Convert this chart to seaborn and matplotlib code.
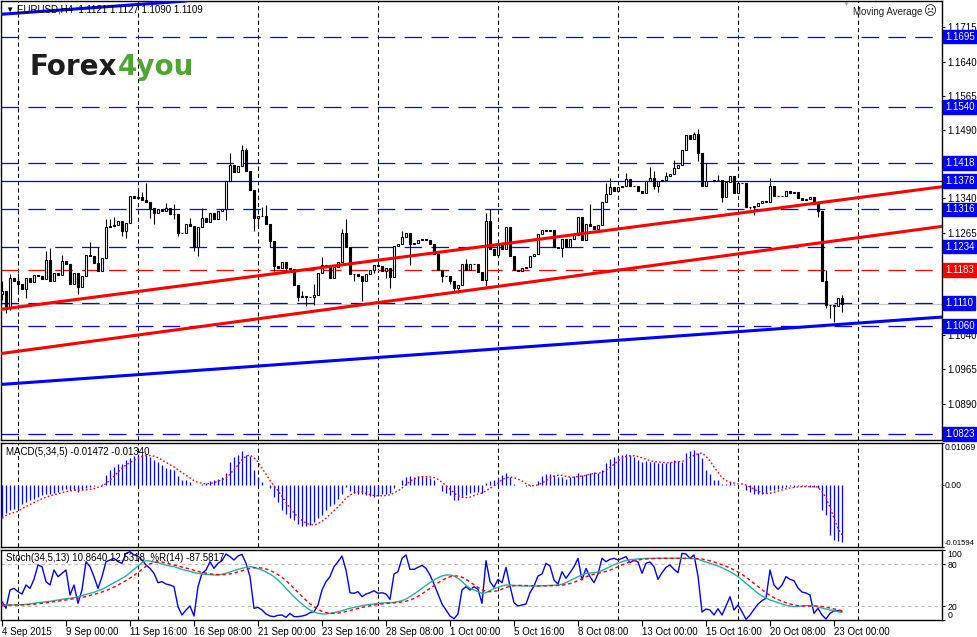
import numpy as np
import pandas as pd
import matplotlib
matplotlib.use("Agg")
import matplotlib.pyplot as plt
import seaborn as sns
from matplotlib.ticker import FixedLocator

# ---------------- data ----------------
header_text = "EURUSD,H4  1.1121 1.1127 1.1090 1.1109"
macd_label = "MACD(5,34,5) -0.01472 -0.01340"
stoch_label = "Stoch(34,5,13) 10.8640 12.5318  %R(14) -87.5817"

first_open = 1.1130
closes = [
    1.1137, 1.1100, 1.1166, 1.1158, 1.1153, 1.1142, 1.1166, 1.1156, 1.1171, 1.1169,
    1.1164, 1.1204, 1.1158, 1.1177, 1.1173, 1.1202, 1.1195, 1.1153, 1.1177, 1.1145,
    1.1169, 1.1215, 1.1213, 1.1199, 1.1180, 1.1210, 1.1278, 1.1279, 1.1281, 1.1290,
    1.1268, 1.1286, 1.1346, 1.1341, 1.1343, 1.1336, 1.1332, 1.1318, 1.1308, 1.1316,
    1.1312, 1.1319, 1.1306, 1.1305, 1.1265, 1.1264, 1.1283, 1.1279, 1.1234, 1.1278,
    1.1297, 1.1288, 1.1307, 1.1294, 1.1313, 1.1316, 1.1378, 1.1414, 1.1398, 1.1411,
    1.1446, 1.1400, 1.1358, 1.1297, 1.1302, 1.1301, 1.1283, 1.1246, 1.1191, 1.1188,
    1.1201, 1.1188, 1.1186, 1.1151, 1.1124, 1.1126, 1.1123, 1.1123, 1.1129, 1.1177,
    1.1194, 1.1190, 1.1166, 1.1190, 1.1200, 1.1265, 1.1234, 1.1175, 1.1175, 1.1169,
    1.1158, 1.1175, 1.1183, 1.1193, 1.1191, 1.1180, 1.1188, 1.1168, 1.1235, 1.1240,
    1.1256, 1.1263, 1.1239, 1.1243, 1.1248, 1.1251, 1.1248, 1.1239, 1.1217, 1.1184,
    1.1169, 1.1169, 1.1158, 1.1144, 1.1149, 1.1197, 1.1184, 1.1195, 1.1196, 1.1178,
    1.1160, 1.1290, 1.1229, 1.1215, 1.1243, 1.1229, 1.1278, 1.1213, 1.1183, 1.1180,
    1.1188, 1.1190, 1.1213, 1.1217, 1.1261, 1.1270, 1.1268, 1.1270, 1.1234, 1.1232,
    1.1250, 1.1234, 1.1250, 1.1259, 1.1300, 1.1248, 1.1284, 1.1279, 1.1272, 1.1281,
    1.1332, 1.1349, 1.1365, 1.1356, 1.1365, 1.1367, 1.1383, 1.1368, 1.1368, 1.1356,
    1.1351, 1.1378, 1.1385, 1.1368, 1.1379, 1.1381, 1.1390, 1.1393, 1.1407, 1.1414,
    1.1446, 1.1480, 1.1471, 1.1482, 1.1440, 1.1368, 1.1379, 1.1378, 1.1380, 1.1380,
    1.1343, 1.1376, 1.1389, 1.1352, 1.1373, 1.1373, 1.1322, 1.1322, 1.1323, 1.1330,
    1.1334, 1.1333, 1.1368, 1.1346, 1.1345, 1.1346, 1.1357, 1.1352, 1.1353, 1.1341,
    1.1336, 1.1338, 1.1343, 1.1327, 1.1313, 1.1158, 1.1107, 1.1107, 1.1104, 1.1122,
    1.1109,
]
high_marks = {0: 1.1158, 2: 1.1175, 4: 1.1177, 11: 1.1224, 12: 1.1232, 15: 1.1215,
              22: 1.1245, 24: 1.1234, 26: 1.1294, 27: 1.1294, 28: 1.1300, 34: 1.1363,
              35: 1.1354, 36: 1.1373, 41: 1.1330, 43: 1.1327, 47: 1.1297, 50: 1.1318,
              57: 1.1440, 60: 1.1458, 61: 1.1451, 65: 1.1321, 66: 1.1326, 75: 1.1137,
              78: 1.1153, 80: 1.1211, 85: 1.1273, 86: 1.1295, 100: 1.1268, 116: 1.1207,
              121: 1.1308, 122: 1.1317, 147: 1.1327, 151: 1.1374, 152: 1.1385, 156: 1.1396,
              162: 1.1409, 163: 1.1400, 166: 1.1398, 168: 1.1425, 173: 1.1485, 174: 1.1493,
              176: 1.1418, 179: 1.1392, 192: 1.1385, 206: 1.1183, 210: 1.1127}
low_marks = {0: 1.1118, 1: 1.1089, 2: 1.1096, 4: 1.1140, 6: 1.1122, 19: 1.1131,
             30: 1.1257, 31: 1.1254, 37: 1.1297, 38: 1.1283, 43: 1.1294, 44: 1.1257,
             48: 1.1224, 49: 1.1213, 56: 1.1292, 63: 1.1268, 64: 1.1279, 67: 1.1234,
             68: 1.1180, 71: 1.1178, 74: 1.1115, 76: 1.1104, 78: 1.1107, 88: 1.1158,
             90: 1.1115, 93: 1.1177, 96: 1.1166, 97: 1.1144, 102: 1.1193, 110: 1.1156,
             112: 1.1153, 113: 1.1137, 114: 1.1133, 121: 1.1148, 140: 1.1212, 163: 1.1360,
             164: 1.1354, 174: 1.1422, 180: 1.1332, 187: 1.1316, 188: 1.1303, 204: 1.1300,
             206: 1.1100, 207: 1.1078, 208: 1.1068, 210: 1.1090}

macd_main = [
    -0.00845, -0.00726, -0.00658, -0.00615, -0.00572, -0.00504, -0.00444, -0.00401, -0.00359, -0.00316,
    -0.00273, -0.00248, -0.00231, -0.00214, -0.00188, -0.00145, -0.00102, -0.00128, -0.00128, -0.00188,
    -0.00128, -0.00077, -0.00060, -0.00043, -0.00017, 0.00026, 0.00239, 0.00384, 0.00453, 0.00521,
    0.00538, 0.00641, 0.00692, 0.00726, 0.00777, 0.00777, 0.00752, 0.00709, 0.00641, 0.00581,
    0.00495, 0.00436, 0.00410, 0.00367, 0.00214, 0.00128, 0.00111, 0.00068, 0.00000, -0.00017,
    0.00026, 0.00043, 0.00094, 0.00128, 0.00154, 0.00196, 0.00299, 0.00581, 0.00709, 0.00752,
    0.00863, 0.00752, 0.00726, 0.00367, 0.00196, 0.00068, 0.00000, -0.00077, -0.00316, -0.00444,
    -0.00658, -0.00743, -0.00845, -0.00897, -0.01016, -0.01068, -0.01068, -0.01042, -0.00956, -0.00845,
    -0.00786, -0.00658, -0.00555, -0.00487, -0.00359, -0.00248, -0.00060, -0.00162, -0.00214, -0.00231,
    -0.00248, -0.00273, -0.00299, -0.00316, -0.00273, -0.00248, -0.00231, -0.00214, -0.00077, -0.00017,
    0.00128, 0.00196, 0.00214, 0.00196, 0.00214, 0.00214, 0.00196, 0.00179, 0.00111, -0.00017,
    -0.00162, -0.00214, -0.00273, -0.00384, -0.00401, -0.00316, -0.00273, -0.00214, -0.00188, -0.00188,
    -0.00214, 0.00043, 0.00094, 0.00111, 0.00154, 0.00239, 0.00299, 0.00196, 0.00009, -0.00017,
    0.00000, -0.00043, -0.00043, -0.00017, 0.00094, 0.00214, 0.00282, 0.00282, 0.00239, 0.00196,
    0.00196, 0.00154, 0.00196, 0.00214, 0.00299, 0.00239, 0.00282, 0.00299, 0.00325, 0.00299,
    0.00384, 0.00555, 0.00666, 0.00709, 0.00726, 0.00752, 0.00777, 0.00752, 0.00709, 0.00623,
    0.00581, 0.00606, 0.00581, 0.00581, 0.00555, 0.00555, 0.00555, 0.00581, 0.00641, 0.00606,
    0.00581, 0.00811, 0.00863, 0.00897, 0.00811, 0.00692, 0.00367, 0.00282, 0.00128, 0.00111,
    0.00009, 0.00009, 0.00068, 0.00026, 0.00000, 0.00000, -0.00128, -0.00188, -0.00248, -0.00248,
    -0.00231, -0.00214, -0.00145, -0.00128, -0.00102, -0.00077, -0.00060, -0.00043, -0.00060, -0.00043,
    -0.00043, -0.00043, -0.00060, -0.00060, -0.00077, -0.00658, -0.00786, -0.01298, -0.01426, -0.01443,
    -0.01472,
]

stoch_main = [
    21.4, 21.4, 21.4, 21.4, 21.9, 21.9, 22.4, 22.9, 23.8, 24.8,
    25.2, 26.2, 26.7, 27.6, 28.6, 29.5, 30.5, 31.0, 31.9, 33.3,
    34.8, 36.7, 38.1, 39.5, 41.9, 43.8, 46.7, 50.0, 53.3, 56.2,
    59.5, 62.9, 67.6, 72.4, 77.1, 81.9, 84.8, 84.3, 82.9, 81.9,
    80.0, 78.6, 77.1, 76.2, 74.3, 72.4, 71.0, 69.5, 67.6, 66.7,
    65.7, 65.2, 64.8, 64.3, 64.3, 65.2, 66.7, 68.6, 70.5, 72.4,
    73.8, 75.2, 76.2, 75.2, 73.3, 71.4, 68.6, 65.7, 61.9, 57.1,
    51.4, 45.2, 39.0, 33.3, 27.6, 22.9, 18.1, 14.3, 11.4, 9.5,
    8.6, 8.6, 9.5, 10.5, 11.9, 13.3, 15.2, 16.7, 18.1, 19.0,
    20.5, 21.4, 22.4, 22.9, 23.8, 24.3, 24.8, 24.8, 25.2, 26.2,
    27.6, 30.0, 33.3, 37.1, 41.0, 45.2, 49.5, 53.3, 57.1, 60.5,
    62.9, 64.3, 64.3, 62.9, 59.5, 55.0, 49.5,
    45.2, 42.9, 40.5, 38.1, 39.0, 41.9, 44.8, 46.7, 48.6, 50.0,
    50.0, 49.5, 49.0, 48.6, 48.6, 48.6, 48.6, 48.6, 49.0, 49.0,
    49.5, 49.5, 50.0, 51.0, 53.3, 56.2, 59.0, 61.9, 64.3, 66.7,
    67.1, 67.6, 68.6, 70.5, 73.3, 76.2, 79.0, 81.4, 83.3, 85.2,
    86.2, 86.7, 87.1, 87.6, 88.1, 88.1, 88.1, 88.1, 88.1, 88.1,
    88.1, 88.1, 88.1, 88.1, 88.1, 88.1, 87.6, 86.7, 84.8, 82.9,
    81.0, 79.0, 77.1, 74.8, 71.9, 69.0, 65.7, 61.9, 57.1, 52.4,
    47.6, 42.9, 38.1, 34.3, 31.4, 28.6, 26.7, 24.8, 22.9, 21.0,
    20.0, 19.0, 19.5, 20.0, 20.5, 20.5, 20.0, 18.6, 17.1, 15.7,
    14.3, 13.3, 11.9, 10.9,
]

williams_r = [
    -73.8, -83.3, -57.1, -54.8, -59.5, -62.9, -50.0, -54.8, -41.9, -21.4,
    -23.8, -45.2, -50.0, -28.6, -38.1, -33.3, -28.6, -64.3, -50.0, -76.2,
    -57.1, -16.7, -23.8, -38.1, -54.8, -38.1, -16.7, -14.3, -11.9, -16.7,
    -19.0, -4.8, -2.4, -7.1, -8.6, -14.3, -21.4, -26.2, -33.3, -46.7,
    -45.2, -48.6, -50.0, -52.4, -81.0, -92.9, -85.7, -80.0, -94.3, -52.4,
    -33.3, -28.6, -16.7, -26.2, -19.0, -15.2, -5.7, -9.5, -14.3, -8.6,
    -6.2, -19.0, -38.1, -83.3, -81.9, -85.7, -91.4, -94.3, -95.2, -93.3,
    -92.9, -96.2, -90.5, -95.2, -95.2, -94.3, -92.9, -89.5, -88.1, -78.6,
    -57.1, -45.2, -38.1, -23.8, -16.7, -8.6, -28.6, -61.0, -61.9, -59.5,
    -66.7, -62.9, -61.0, -58.1, -61.9, -61.0, -62.9, -70.5, -34.3, -31.0,
    -11.9, -7.1, -27.6, -27.6, -24.8, -21.9, -26.2, -35.7, -48.6, -62.9,
    -77.1, -85.7, -94.3, -98.1, -91.4, -57.1, -52.4, -57.1, -52.4, -56.2,
    -76.2, -15.2, -45.2, -53.3, -41.9, -46.7, -24.8, -51.4, -75.2, -80.0,
    -78.6, -77.1, -61.0, -51.4, -37.1, -34.3, -19.0, -22.9, -42.9, -48.6,
    -31.0, -40.5, -32.4, -23.8, -11.9, -42.9, -26.2, -38.1, -46.7, -34.3,
    -11.9, -16.7, -13.3, -11.9, -14.3, -11.9, -9.5, -18.1, -14.3, -17.1,
    -33.3, -19.0, -17.1, -23.8, -41.9, -32.4, -24.8, -21.4, -27.6, -32.4,
    -4.8, -5.7, -11.9, -7.1, -37.1, -88.6, -84.3, -85.7, -92.9, -83.8,
    -92.9, -80.0, -66.7, -85.7, -78.6, -88.1, -99.0, -92.9, -84.8, -77.1,
    -72.4, -69.0, -28.6, -50.0, -56.2, -50.0, -38.1, -41.9, -43.8, -54.3,
    -60.0, -61.4, -64.3, -90.5, -83.3, -92.9, -98.6, -90.5, -87.1, -86.7,
    -87.6,
]

levels = [1.1695, 1.1540, 1.1418, 1.1378, 1.1316, 1.1234, 1.1183, 1.1110, 1.1060, 1.0823]
level_colors = ["#0000ff", "#0000ff", "#0000ff", "#0000ff", "#0000ff",
                "#0000ff", "#ff0000", "#0000ff", "#0000ff", "#0000ff"]
level_dashed = [True, True, True, False, True, True, True, True, True, True]

# trend lines: two anchor points (bar index, price) each
trend_lines = [
    ((0, 1.1097), (210, 1.1337), "#ff0000"),
    ((0, 1.1000), (210, 1.1249), "#ff0000"),
    ((0, 1.0932), (210, 1.1064), "#0000ff"),
    ((0, 1.1744), (210, 1.1876), "#0000ff"),
]

# price scale labels that stay visible beside the level boxes
price_ticks = [1.0890, 1.0965, 1.1040, 1.1265,
               1.1340, 1.1490, 1.1565, 1.1640, 1.1715]
tick_labels = ["4 Sep 2015", "9 Sep 00:00", "11 Sep 16:00", "16 Sep 08:00",
               "21 Sep 00:00", "23 Sep 16:00", "28 Sep 08:00", "1 Oct 00:00",
               "5 Oct 16:00", "8 Oct 08:00", "13 Oct 00:00", "15 Oct 16:00",
               "20 Oct 08:00", "23 Oct 00:00"]
macd_ticks = [-0.01594, 0.0, 0.01069]
macd_tick_labels = ["-0.01594", "0.00", "0.01069"]
stoch_ticks = [0, 20, 80, 100]

# ---------------- styling ----------------
sns.set_style("white")
plt.rcParams["font.family"] = ["Liberation Sans", "DejaVu Sans"]

W, H = 978, 637
fig = plt.figure(figsize=(W / 100, H / 100), dpi=100, facecolor="white")


def px_axes(left, top, right, bottom):
    return fig.add_axes([left / W, 1 - bottom / H, (right - left) / W, (bottom - top) / H])


ax = px_axes(1, 1, 942, 440)
axm = px_axes(1, 443, 942, 547)
axs = px_axes(1, 550, 942, 620)

n = len(closes)
idx = np.arange(n)
XMIN, XMAX = -0.25, 235.0
grid_bars = np.arange(4, 235, 30)

for a in (ax, axm, axs):
    a.set_facecolor("white")
    a.set_xlim(XMIN, XMAX)
    for s in a.spines.values():
        s.set_color("black")
        s.set_linewidth(1.0)
        s.set_visible(True)
    a.xaxis.set_minor_locator(FixedLocator(grid_bars))
    a.grid(which="minor", axis="x", color="black", linestyle=(0, (4, 3)), linewidth=0.75)
    a.grid(which="major", axis="both", visible=False)
    a.yaxis.tick_right()
    a.tick_params(axis="y", which="major", right=True, left=False, length=2.5, width=0.8,
                  pad=1.5, labelsize=7, colors="black")
    a.tick_params(which="minor", length=0)

# ---------------- price panel ----------------
c = np.array(closes)
o = np.array([first_open] + closes[:-1])
o[-1] = 1.1121
hi = np.maximum(o, c)
lo = np.minimum(o, c)
for k, v in high_marks.items():
    hi[k] = max(hi[k], v)
for k, v in low_marks.items():
    lo[k] = min(lo[k], v)

ax.vlines(idx, lo, hi, color="black", linewidth=0.8, zorder=3)
up = c >= o
ax.bar(idx[up], (c - o)[up], bottom=o[up], width=0.6, color="white",
       edgecolor="black", linewidth=0.8, zorder=4)
ax.bar(idx[~up], (o - c)[~up], bottom=c[~up], width=0.6, color="black",
       edgecolor="black", linewidth=0.8, zorder=4)

ax.axhline(closes[-1], color="#c8c8c8", linewidth=0.8, zorder=2)
for lvl, col, dashed in zip(levels, level_colors, level_dashed):
    ls = (0, (14, 7.5)) if dashed else "-"
    ax.axhline(lvl, color=col, linewidth=0.9, linestyle=ls, zorder=2.5)
    ax.annotate(f"{lvl:.4f}", xy=(1, lvl), xycoords=("axes fraction", "data"),
                xytext=(2.2, 0), textcoords="offset points", ha="left", va="center",
                color="white", fontsize=7,
                bbox=dict(boxstyle="square,pad=0.18", fc=col, ec=col),
                zorder=10, annotation_clip=False)

for (p1, p2, col) in trend_lines:
    ax.axline(p1, p2, color=col, linewidth=2.2, zorder=5)

ax.set_ylim(1.0810, 1.1773)
ax.set_yticks(price_ticks)
ax.set_yticklabels([f"{t:.4f}" for t in price_ticks])
ax.set_xticks([])

# ---------------- MACD panel ----------------
macd = np.array(macd_main)
macd_signal = pd.Series(macd).rolling(5, min_periods=1).mean().to_numpy()
axm.vlines(idx, 0, macd, color="#0000ff", linewidth=0.9, zorder=3)
sns.lineplot(x=idx, y=macd_signal, ax=axm, color="#ff0000", linewidth=1.0, legend=False, zorder=4)
axm.lines[-1].set_linestyle((0, (1.2, 1.6)))
axm.set_ylim(-0.01594, 0.01069)
axm.set_yticks(macd_ticks)
axm.set_yticklabels(macd_tick_labels)
axm.tick_params(axis="y", labelsize=6.2, pad=0.6, length=1.6)
axm.set_xticks([])
axm.text(0.0055, 0.965, macd_label, transform=axm.transAxes, ha="left", va="top",
         fontsize=7, color="black", zorder=6)

# ---------------- Stochastic panel ----------------
stoch = np.array(stoch_main)
stoch_signal = pd.Series(stoch).rolling(5, min_periods=1).mean().to_numpy()
wr_display = np.array(williams_r) + 100
axs.axhline(80, color="#c4b4c4", linestyle=(0, (3, 3)), linewidth=0.8, zorder=1)
axs.axhline(20, color="#b0c4b0", linestyle=(0, (3, 3)), linewidth=0.8, zorder=1)
sns.lineplot(x=idx, y=wr_display, ax=axs, color="#0000ff", linewidth=1.0, legend=False, zorder=3)
sns.lineplot(x=idx, y=stoch, ax=axs, color="#20b2aa", linewidth=1.0, legend=False, zorder=4)
sns.lineplot(x=idx, y=stoch_signal, ax=axs, color="#ff0000", linewidth=1.0, legend=False, zorder=5)
axs.lines[-1].set_linestyle((0, (2.5, 2)))
axs.set_ylim(0, 100)
axs.set_yticks(stoch_ticks)
axs.set_yticklabels([str(t) for t in stoch_ticks])
axs.tick_params(axis="y", labelsize=6.3)
axs.text(0.0055, 0.955, stoch_label, transform=axs.transAxes, ha="left", va="top",
         fontsize=7, color="black", zorder=6)
axs.set_xticks(list(range(0, 16 * len(tick_labels), 16)))
axs.set_xticklabels(tick_labels, ha="left")
axs.tick_params(axis="x", which="major", bottom=True, length=4, width=0.8, pad=1,
                labelsize=7, colors="black")
for a in (axm, axs):
    a.set_xlabel("")
    a.set_ylabel("")

# vertical alignment / size of edge labels
for tick, lab in zip(axm.yaxis.get_major_ticks(), macd_tick_labels):
    if lab == "0.01069":
        tick.label2.set_va("top")
    elif lab == "-0.01594":
        tick.label2.set_va("bottom")
        tick.label2.set_fontsize(5.5)
for tick, t in zip(axs.yaxis.get_major_ticks(), stoch_ticks):
    if t == 100:
        tick.label2.set_va("top")
    elif t == 0:
        tick.label2.set_va("bottom")

# ---------------- header / logo ----------------
fig.text(5 / W, 1 - 10 / H, "\u25bc", fontsize=6, color="black", va="center", ha="left")
fig.text(17 / W, 1 - 10 / H, header_text, fontsize=7, color="black", va="center", ha="left")
fig.text(843 / W, 1 - 4 / H, "\u25bc", fontsize=5, color="#a8a8a8", va="center", ha="left")
fig.text(853 / W, 1 - 12 / H, "Moving Average", fontsize=7, color="#202020", va="center", ha="left")
fig.text(924 / W, 1 - 12 / H, "\u2639", fontsize=9, color="#202020", va="center", ha="left",
         family=["DejaVu Sans"])

t1 = fig.text(30 / W, 1 - 75 / H, "Forex", fontsize=20, fontweight="bold", color="#1d1d1b",
              va="baseline", ha="left", family=["DejaVu Sans"])
ax.annotate("4you", xy=(1, 0), xycoords=t1, xytext=(0, 0), textcoords="offset points",
            ha="left", va="bottom", fontsize=20, fontweight="bold", color="#4ea52f",
            family=["DejaVu Sans"], annotation_clip=False, zorder=12)

fig.savefig("out.png", dpi=100, facecolor="white")
